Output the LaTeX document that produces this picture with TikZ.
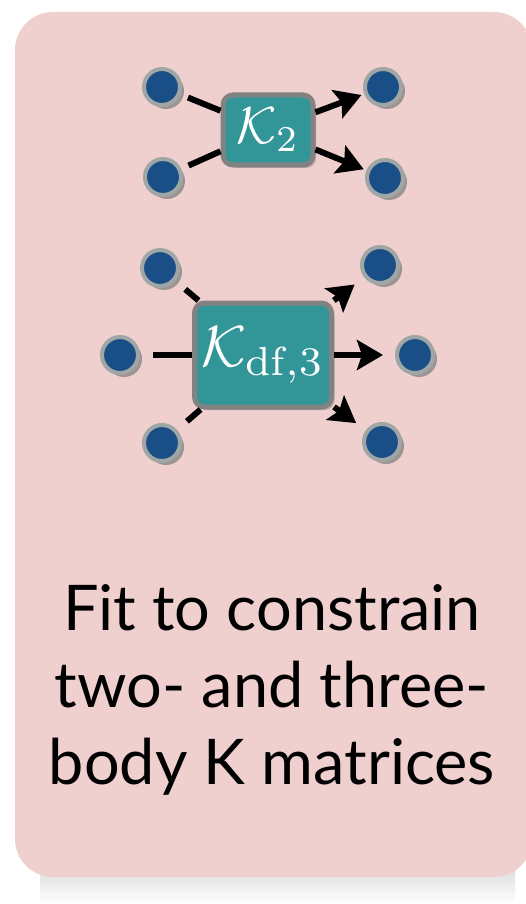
\documentclass[tikz,border=0pt]{standalone}
\usepackage{fontspec}
\usepackage{tikz}
\usetikzlibrary{arrows.meta}
\usetikzlibrary{shadows}
\newfontfamily\capfont{Lato}
\definecolor{cardpink}{RGB}{239,208,206}
\definecolor{dotblue}{RGB}{26,78,134}
\definecolor{dotring}{RGB}{160,166,166}
\definecolor{kteal}{RGB}{50,150,152}
\definecolor{kframe}{RGB}{130,130,130}

\begin{document}
\begin{tikzpicture}[x=1pt, y=-1pt,
    dot/.style={circle, minimum size=36pt, inner sep=0pt, fill=dotblue,
        draw=dotring, line width=4pt,
        drop shadow={shadow xshift=4pt, shadow yshift=-4pt, opacity=0.75}},
    kbox/.style={rounded corners=10pt, fill=kteal, draw=kframe, line width=5pt,
        text=white, inner sep=0pt,
        drop shadow={shadow xshift=3pt, shadow yshift=-3pt, opacity=0.5}},
    inleg/.style={line width=6pt},
    outleg/.style={line width=6pt, -{Stealth[length=26pt, width=30pt, inset=5pt]}}]
    \useasboundingbox (0,0) rectangle (525,904);

    % card with its shadow
    \shade[top color=black!14, bottom color=white] (40,866) rectangle (515,904);
    \fill[cardpink, rounded corners=38pt] (15,12) rectangle (532,877);

    % two-body part
    \node[kbox, minimum width=90pt, minimum height=70pt] (ktwo) at (268,130)
        {\scalebox{5.2}{$\mathcal{K}_2$}};
    \node[dot] (inA) at (162,87) {};
    \node[dot] (inB) at (163,177) {};
    \node[dot] (outA) at (383,87) {};
    \node[dot] (outB) at (385,178) {};

    \draw[inleg, shorten <=8pt] (inA) -- (ktwo);
    \draw[inleg, shorten <=8pt] (inB) -- (ktwo);
    \draw[outleg, shorten >=3pt] (ktwo) -- (outA);
    \draw[outleg, shorten >=3pt] (ktwo) -- (outB);

    % three-body part
    \node[kbox, minimum width=137pt, minimum height=104pt] (kthree) at (263,355)
        {\scalebox{5.8}{$\mathcal{K}_{\mathrm{df},3}$}};
    \node[dot] (inC) at (160,268) {};
    \node[dot] (inD) at (120,355) {};
    \node[dot] (inE) at (162,443) {};
    \node[dot] (outC) at (380,265) {};
    \node[dot] (outD) at (415,355) {};
    \node[dot] (outE) at (382,442) {};

    \foreach \n in {inC,inD,inE}
        \draw[inleg, shorten <=13pt] (\n) -- (kthree);
    \foreach \n in {outC,outD,outE}
        \draw[outleg, shorten >=12pt] (kthree) -- (\n);

    % caption
    \node[font=\capfont\fontsize{63}{77}\selectfont, align=center, inner sep=0pt,
        anchor=base] (caption) at (272,784)
        {Fit to constrain\\two- and three-\\body K matrices};
\end{tikzpicture}
\end{document}
